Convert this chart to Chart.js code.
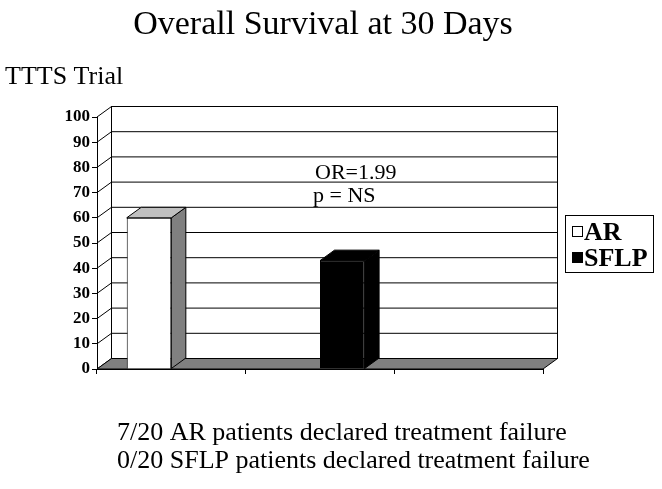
<!DOCTYPE html>
<html>
<head>
<meta charset="utf-8">
<script src="https://cdn.jsdelivr.net/npm/chart.js@4/dist/chart.umd.min.js"></script>
<style>
  html, body { margin: 0; padding: 0; background: #fff; }
  #wrap { width: 662px; height: 489px; position: relative; }
</style>
</head>
<body>
<div id="wrap"><canvas id="survival-chart"></canvas></div>
<script>
// Données
const categories = ['', '', ''];
const seriesNames = ['AR', 'SFLP'];
const arValues = [60, null, null];
const sflpValues = [null, 43, null];
const yTicks = [0, 10, 20, 30, 40, 50, 60, 70, 80, 90, 100];

const titleText = 'Overall Survival at 30 Days';
const subtitleText = 'TTTS Trial';
const noteLines = ['OR=1.99', 'p = NS'];
const footerLines = [
    '7/20 AR patients declared treatment failure',
    '0/20 SFLP patients declared treatment failure'
];

const SERIF = '"Liberation Serif", "Times New Roman", serif';
// profondeur de l'effet 3D
const DX = 14.5;
const DY = -10.5;

const faceColors = [
    { front: '#ffffff', side: '#808080', top: '#c0c0c0' },
    { front: '#000000', side: '#000000', top: '#000000' }
];

// murs, sol et quadrillage avant les barres, faces 3D après
const box3d = {
    id: 'box3d',
    beforeDatasetsDraw(chart) {
        const ctx = chart.ctx;
        const { left, right, top, bottom } = chart.chartArea;
        const y = chart.scales.y;
        ctx.save();
        ctx.lineWidth = 1;
        ctx.strokeStyle = '#000';
        // mur du fond
        ctx.strokeRect(left + DX, top + DY, right - left, bottom - top);
        // quadrillage du fond + diagonales du mur gauche
        yTicks.forEach(v => {
            const py = y.getPixelForValue(v);
            ctx.beginPath();
            ctx.moveTo(left + DX, py + DY);
            ctx.lineTo(right + DX, py + DY);
            ctx.moveTo(left, py);
            ctx.lineTo(left + DX, py + DY);
            ctx.stroke();
        });
        // sol
        ctx.beginPath();
        ctx.moveTo(left, bottom);
        ctx.lineTo(right, bottom);
        ctx.lineTo(right + DX, bottom + DY);
        ctx.lineTo(left + DX, bottom + DY);
        ctx.closePath();
        ctx.fillStyle = '#808080';
        ctx.fill();
        ctx.stroke();
        ctx.restore();
    },
    afterDatasetsDraw(chart) {
        const ctx = chart.ctx;
        ctx.save();
        ctx.lineWidth = 1;
        ctx.strokeStyle = '#000';
        chart.data.datasets.forEach((ds, i) => {
            const meta = chart.getDatasetMeta(i);
            meta.data.forEach((bar, j) => {
                if (ds.data[j] === null) return;
                const p = bar.getProps(['x', 'y', 'base', 'width'], true);
                const l = p.x - p.width / 2;
                const r = p.x + p.width / 2;
                // côté
                ctx.beginPath();
                ctx.moveTo(r, p.y);
                ctx.lineTo(r + DX, p.y + DY);
                ctx.lineTo(r + DX, p.base + DY);
                ctx.lineTo(r, p.base);
                ctx.closePath();
                ctx.fillStyle = faceColors[i].side;
                ctx.fill();
                ctx.stroke();
                // dessus
                ctx.beginPath();
                ctx.moveTo(l, p.y);
                ctx.lineTo(l + DX, p.y + DY);
                ctx.lineTo(r + DX, p.y + DY);
                ctx.lineTo(r, p.y);
                ctx.closePath();
                ctx.fillStyle = faceColors[i].top;
                ctx.fill();
                ctx.stroke();
            });
        });
        ctx.restore();
    }
};

// titres, notes, légende et texte du bas
const texts = {
    id: 'texts',
    afterDraw(chart) {
        const ctx = chart.ctx;
        ctx.save();
        ctx.fillStyle = '#000';
        ctx.textBaseline = 'alphabetic';

        ctx.font = '34px ' + SERIF;
        ctx.textAlign = 'center';
        ctx.fillText(titleText, 323, 34);

        ctx.textAlign = 'left';
        ctx.font = '26px ' + SERIF;
        ctx.fillText(subtitleText, 5, 84);

        ctx.font = '22px ' + SERIF;
        ctx.fillText(noteLines[0], 315, 179);
        ctx.fillText(noteLines[1], 313, 202);

        ctx.font = '26px ' + SERIF;
        ctx.fillText(footerLines[0], 117, 440);
        ctx.fillText(footerLines[1], 117, 468);

        // légende
        ctx.lineWidth = 1;
        ctx.strokeStyle = '#000';
        ctx.strokeRect(565.5, 215.5, 88, 57);
        ctx.font = 'bold 26px ' + SERIF;
        chart.data.datasets.forEach((ds, i) => {
            const base = 240 + i * 26;
            ctx.fillStyle = ds.backgroundColor;
            ctx.fillRect(572.5, base - 13.5, 10, 10);
            ctx.strokeRect(572.5, base - 13.5, 10, 10);
            ctx.fillStyle = '#000';
            ctx.fillText(ds.label, 584, base);
        });
        ctx.restore();
    }
};

const ctx = document.getElementById('survival-chart').getContext('2d');

const data = {
    labels: categories,
    datasets: [
        {
            label: seriesNames[0],
            data: arValues,
            backgroundColor: '#ffffff',
            borderColor: '#000000',
            borderWidth: 1
        },
        {
            label: seriesNames[1],
            data: sflpValues,
            backgroundColor: '#000000',
            borderColor: '#000000',
            borderWidth: 1
        }
    ]
};

const survivalChart = new Chart(ctx, {
    type: 'bar',
    data: data,
    options: {
        responsive: true,
        maintainAspectRatio: false,
        animation: false,
        layout: { padding: { top: 117, right: 119, bottom: 100, left: 0 } },
        categoryPercentage: 0.6,
        barPercentage: 1,
        plugins: {
            legend: { display: false },
            tooltip: { enabled: false }
        },
        scales: {
            x: {
                afterFit: s => { s.height = 20; },
                ticks: { display: false },
                grid: { drawOnChartArea: false, drawTicks: true, tickLength: 5, color: '#000' },
                border: { color: '#000', width: 1 }
            },
            y: {
                min: 0,
                max: 100,
                afterFit: s => { s.width = 97; },
                afterBuildTicks: s => { s.ticks = yTicks.map(v => ({ value: v })); },
                ticks: {
                    color: '#000',
                    padding: 2,
                    font: { family: SERIF, size: 17, weight: 'bold' }
                },
                grid: { drawOnChartArea: false, drawTicks: true, tickLength: 5, color: '#000' },
                border: { color: '#000', width: 1 }
            }
        }
    },
    plugins: [box3d, texts]
});
</script>
</body>
</html>
